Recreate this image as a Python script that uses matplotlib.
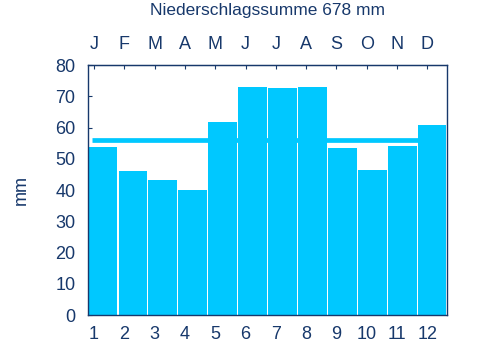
import numpy as np
import matplotlib.pyplot as plt

plt.rcParams['font.family'] = ['Liberation Sans', 'DejaVu Sans']

# monthly precipitation (mm)
months_num = ["1", "2", "3", "4", "5", "6", "7", "8", "9", "10", "11", "12"]
months_abbr = ["J", "F", "M", "A", "M", "J", "J", "A", "S", "O", "N", "D"]
precip = [53.9, 46.1, 43.2, 40.0, 61.9, 73.0, 72.7, 73.1, 53.5, 46.4, 54.2, 60.9]
mean_line = 56.1
total = 678

navy = "#17386b"
bar_color = "#00c8ff"

fig = plt.figure(figsize=(4.8, 3.6), dpi=100)
ax = fig.add_axes([0.1833, 0.125, 0.748, 0.6944])

x = np.arange(len(precip))
# mean line behind the bars
ax.plot([0.12, 11.03], [mean_line, mean_line], color=bar_color, linewidth=3.4,
        solid_capstyle="butt", zorder=1)
ax.bar(x + 0.5, precip, width=0.96, color=bar_color, zorder=2)

ax.set_xlim(0, 12)
ax.set_ylim(0, 80)
ax.set_yticks(range(0, 81, 10))

tick_pos = 0.2 + 1.013 * x
ax.set_xticks(tick_pos)
ax.set_xticklabels(months_num)
ax.tick_params(axis="x", length=0, pad=8, labelsize=13, colors=navy)
ax.tick_params(axis="y", direction="in", length=3, width=0.8, pad=9,
               labelsize=13, colors=navy)

top = ax.secondary_xaxis("top")
top.set_xticks(tick_pos)
top.set_xticklabels(months_abbr)
top.tick_params(direction="in", length=3, width=0.8, pad=9, labelsize=13,
                colors=navy)
top.spines["top"].set_color(navy)

for s in ax.spines.values():
    s.set_color(navy)
    s.set_linewidth(1.0)

ax.set_ylabel("mm", fontsize=13, color=navy, labelpad=18)
fig.text(0.5 * (0.1833 + 0.931), 0.972, f"Niederschlagssumme {total} mm",
         ha="center", va="center", fontsize=12.5, color=navy)

fig.savefig("out.png", dpi=100)
